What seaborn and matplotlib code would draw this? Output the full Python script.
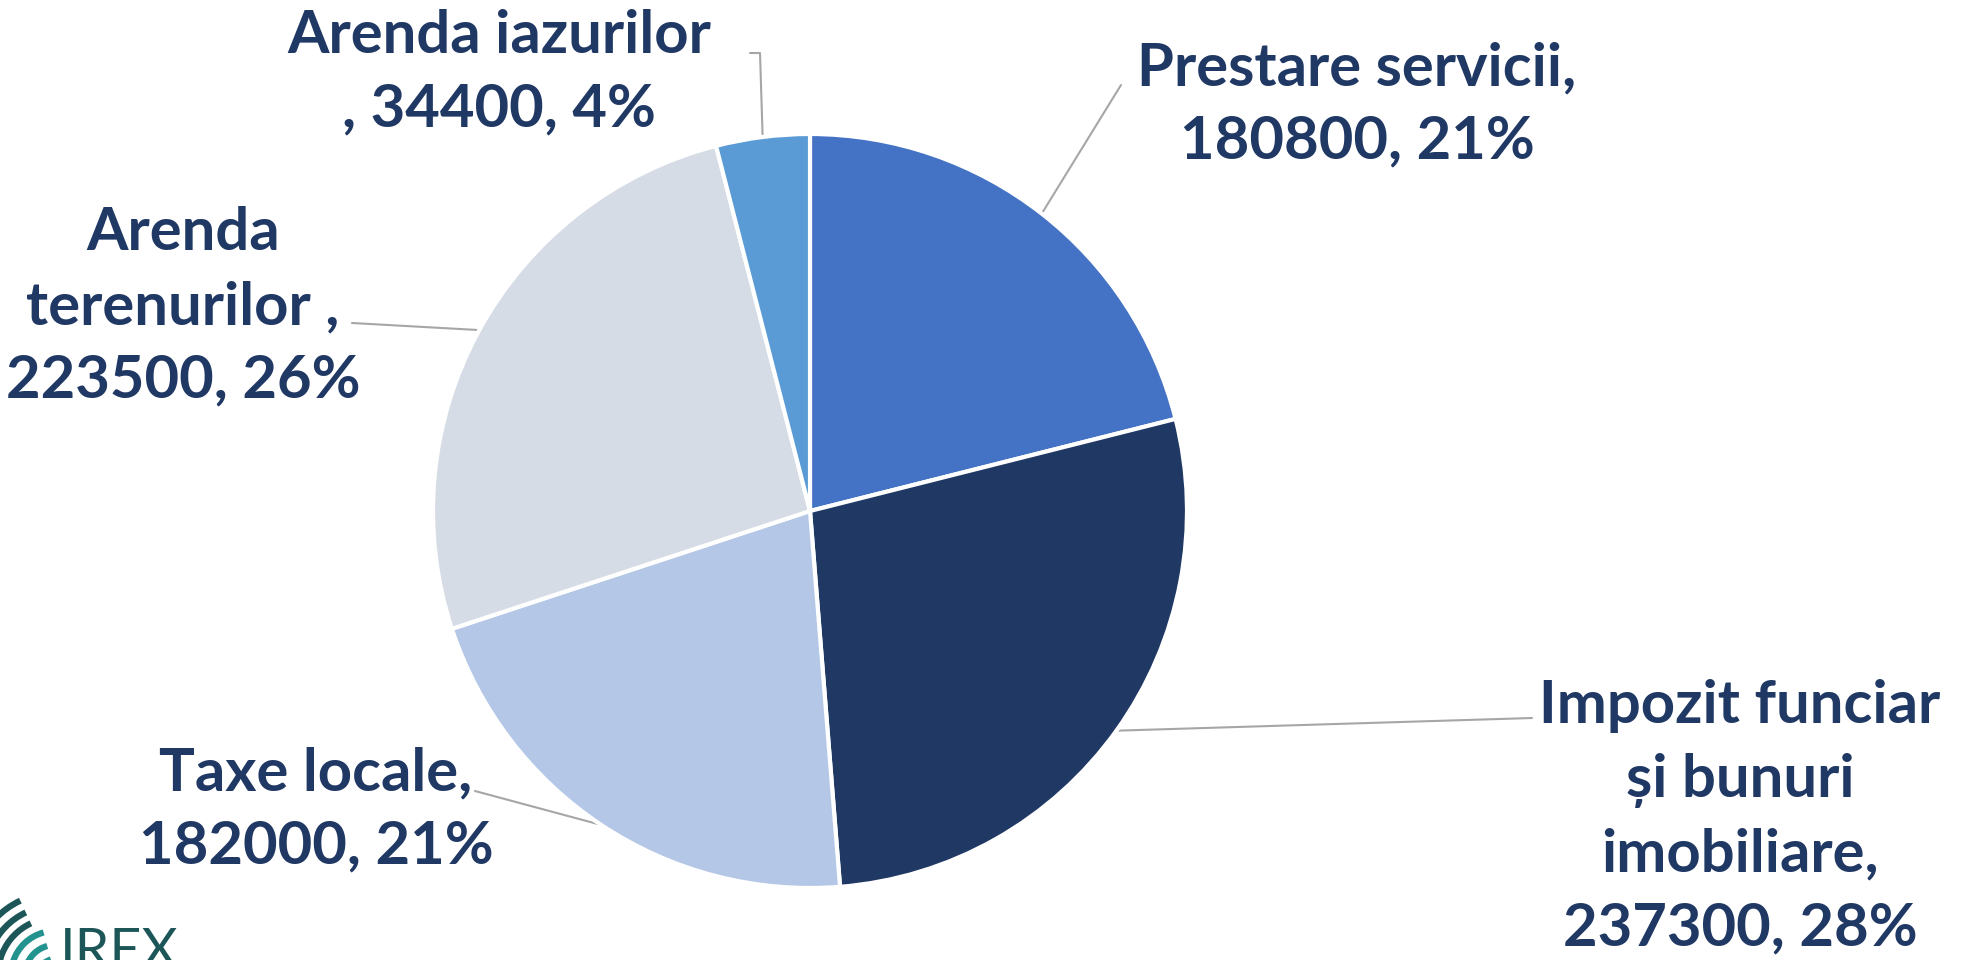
import matplotlib
matplotlib.use("Agg")
import matplotlib.pyplot as plt
from matplotlib.patches import Arc
import numpy as np
import seaborn as sns

# data
categories = ["Prestare servicii", "Impozit funciar și bunuri imobiliare",
              "Taxe locale", "Arenda terenurilor", "Arenda iazurilor"]
values = [180800, 237300, 182000, 223500, 34400]
label_heads = ["Prestare servicii,\n", "Impozit funciar\nși bunuri\nimobiliare,\n",
               "Taxe locale,\n", "Arenda\nterenurilor ,\n", "Arenda iazurilor\n, "]
colors = ["#4472C4", "#203864", "#B4C7E7", "#D6DCE5", "#5B9BD5"]

sns.set_theme(style="white")
plt.rcParams['font.family'] = ['Lato', 'DejaVu Sans']

W, H = 1969, 960
fig = plt.figure(figsize=(W / 100, H / 100), dpi=100)
ax = fig.add_axes([0, 0, 1, 1])

cx, cy, r = 810, H - 511, 377
palette = sns.color_palette(colors)
wedges, _ = ax.pie(values, colors=palette, startangle=90, counterclock=False,
                   center=(cx, cy), radius=r,
                   wedgeprops=dict(edgecolor="white", linewidth=3))
ax.set_xlim(0, W)
ax.set_ylim(0, H)
ax.set_aspect("equal")
ax.axis("off")

total = sum(values)
pcts = [round(v / total * 100) for v in values]

# label block centres and leader line starts (pixels from top-left)
label_pos = [(1357, 105), (1740, 817), (316, 810), (183, 307), (499, 73)]
leader_start = [[(1121, 85)], [(1532, 718)], [(475, 791)], [(352, 323)],
                [(750, 53), (760, 53)]]

txt_color = "#203864"
for w, head, v, p, pos, ls in zip(wedges, label_heads, values, pcts, label_pos, leader_start):
    ax.text(pos[0], H - pos[1], f"{head}{v}, {p}%", ha="center", va="center",
            fontsize=43, fontweight="bold", color=txt_color, linespacing=1.45)
    th = np.deg2rad((w.theta1 + w.theta2) / 2)
    px, py = cx + r * np.cos(th), cy + r * np.sin(th)
    xs = [a for a, b in ls] + [px]
    ys = [H - b for a, b in ls] + [py]
    ax.plot(xs, ys, color="#A6A6A6", lw=1.5, zorder=0.5)

# logo, cut at the bottom edge
ax.text(60, H - 927, "IREX", ha="left", va="top", fontsize=40,
        color="#1D5658", fontweight="normal")
lc = (55, H - 975)
for rad in [82, 69, 57]:
    ax.add_patch(Arc(lc, 2 * rad, 2 * rad, theta1=115, theta2=200, color="#1D5658", lw=4.5))
for rad in [44, 30, 16]:
    ax.add_patch(Arc(lc, 2 * rad, 2 * rad, theta1=105, theta2=220, color="#23938F", lw=4.5))

fig.savefig("out.png", dpi=100)
